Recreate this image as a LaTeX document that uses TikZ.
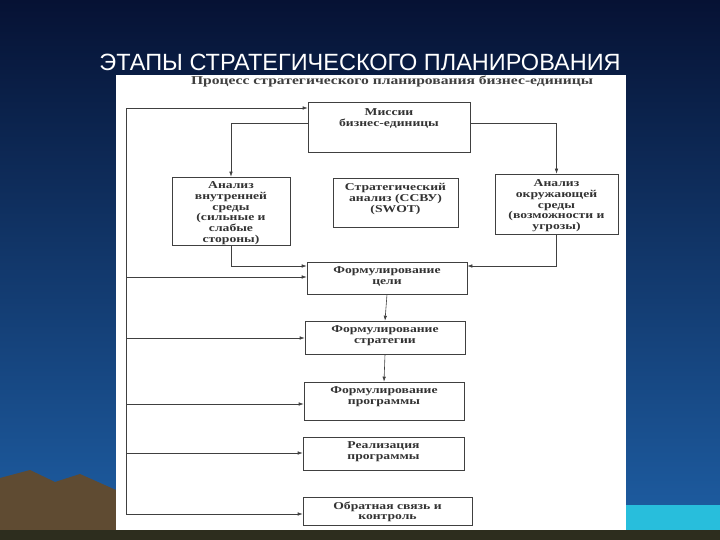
\documentclass[tikz,border=0pt]{standalone}
\usepackage{fontspec}
\setmainfont{Liberation Serif}
\newfontfamily\wide[FakeStretch=1.3]{Liberation Serif}
\newfontfamily\titlefont{Liberation Sans}
\usetikzlibrary{arrows.meta}
\definecolor{bgtop}{RGB}{6,18,52}
\definecolor{bgbot}{RGB}{30,95,165}
\definecolor{cyanb}{RGB}{40,190,220}
\definecolor{mount}{RGB}{95,75,50}
\definecolor{ground}{RGB}{45,45,30}
\begin{document}
\begin{tikzpicture}[x=1pt,y=-1pt,
  blk/.style={draw=black!75,line width=0.6pt,fill=white,inner sep=0pt},
  lbl/.style={font=\wide\bfseries\fontsize{10.5}{10.8}\selectfont,align=center,text=black!80},
  ar/.style={draw=black!75,line width=0.6pt,-{Latex[length=5pt,width=3.5pt]}},
  ln/.style={draw=black!75,line width=0.6pt}]
\useasboundingbox (0,0) rectangle (720,540);
\shade[top color=bgtop,bottom color=bgbot] (0,0) rectangle (720,540);
\fill[cyanb] (626,505) rectangle (720,530);
\fill[mount] (0,540) -- (0,478) -- (30,470) -- (55,482) -- (80,474) -- (116,490) -- (116,540) -- cycle;
\fill[ground] (0,530) rectangle (720,540);
\node[text=white,font=\titlefont\fontsize{23.5}{26}\selectfont,anchor=center] (title) at (360,62) {ЭТАПЫ СТРАТЕГИЧЕСКОГО ПЛАНИРОВАНИЯ};
\fill[white] (116,75) rectangle (626,530);
\node[font=\wide\bfseries\fontsize{12}{12}\selectfont,text=black!75] (sub) at (392,81) {Процесс стратегического планирования бизнес-единицы};
\node[blk,minimum width=162pt,minimum height=50pt] (misn) at (389,127) {};
\node[lbl,anchor=north] at (389,105) {Миссии\\бизнес-единицы};
\node[blk,minimum width=118pt,minimum height=68pt] (lft) at (231,211) {};
\node[lbl,anchor=north] at (231,178) {Анализ\\внутренней\\среды\\(сильные и\\слабые\\стороны)};
\node[blk,minimum width=125pt,minimum height=49pt] (swot) at (395.5,202.5) {};
\node[lbl,anchor=north] at (395.5,180) {Стратегический\\анализ (ССВУ)\\(SWOT)};
\node[blk,minimum width=123pt,minimum height=60pt] (rgt) at (556.5,204) {};
\node[lbl,anchor=north] at (556.5,176) {Анализ\\окружающей\\среды\\(возможности и\\угрозы)};
\node[blk,minimum width=160pt,minimum height=32pt] (goal) at (387,278) {};
\node[lbl,anchor=north] at (387,263) {Формулирование\\цели};
\node[blk,minimum width=160pt,minimum height=33pt] (str) at (385,337.5) {};
\node[lbl,anchor=north] at (385,322) {Формулирование\\стратегии};
\node[blk,minimum width=160pt,minimum height=38pt] (prg) at (384,401) {};
\node[lbl,anchor=north] at (384,383) {Формулирование\\программы};
\node[blk,minimum width=161pt,minimum height=33pt] (rea) at (383.5,453.5) {};
\node[lbl,anchor=north] at (383.5,438) {Реализация\\программы};
\node[blk,minimum width=169pt,minimum height=28pt] (fb) at (387.5,511) {};
\node[lbl,anchor=north] at (387.5,498) {Обратная связь и\\контроль};
\coordinate (lt) at (126,108);
\coordinate (lb) at (126,514);
\draw[ln] (lb) -- (lt);
\draw[ar] (lt) -- (misn.west |- lt);
\draw[ar] (misn.west |- 0,123) -| (lft.north);
\draw[ar] (misn.east |- 0,123) -| (rgt.north);
\draw[ar] (lft.south) |- (goal.west |- 0,266);
\draw[ar] (rgt.south) |- (goal.east |- 0,266);
\draw[ar] (126,277) -- (goal.west |- 0,277);
\draw[ar] (goal.south) -- (str.north);
\draw[ar] (str.south) -- (prg.north);
\draw[ar] (126,338) -- (str.west |- 0,338);
\draw[ar] (126,404) -- (prg.west |- 0,404);
\draw[ar] (126,453) -- (rea.west |- 0,453);
\draw[ar] (lb) -- (fb.west |- lb);
\end{tikzpicture}
\end{document}
